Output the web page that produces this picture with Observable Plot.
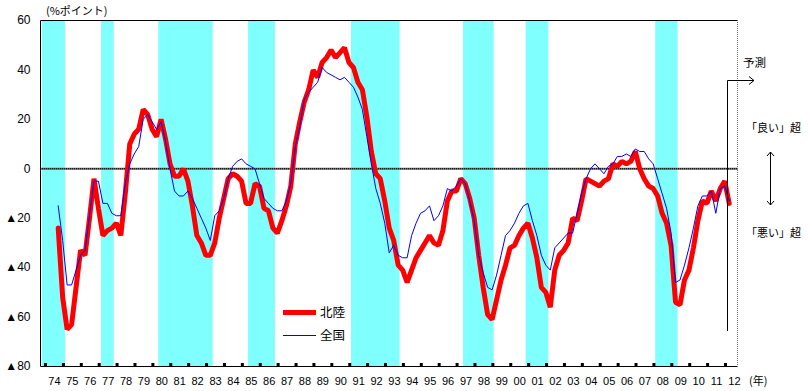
<!DOCTYPE html>
<html><head><meta charset="utf-8">
<script src="https://cdn.jsdelivr.net/npm/d3@7"></script>
<script src="https://cdn.jsdelivr.net/npm/@observablehq/plot@0.6"></script>
<style>
html,body{margin:0;padding:0;background:#fff;}
#chart{width:808px;height:391px;position:relative;overflow:hidden;}
</style></head><body><div id="chart"></div>
<script>
// Quarterly business conditions DI (%ポイント), first point = 1974 Sep survey, last = 2012 Mar (forecast)
const firstYear = 1974, firstMonth = 9;
const hokuriku = [
  -24, -52,
  -65, -63, -48, -33,   -35, -20, -4, -16,   -27, -25, -24, -22,   -27, -10, 10, 14,
  16, 24, 22, 16,       13, 20, 12, 2,       -3, -3, 0, -5,        -15, -27, -30, -35,
  -35, -30, -20, -12,   -4, -2, -3, -5,      -14, -14, -6, -7,     -16, -17, -24, -26,
  -21, -15, -7, 10,     19, 27, 32, 40,      37, 43, 45, 48,       45, 47, 49, 43,
  41, 35, 32, 21,       7, -2, -4, -13,      -24, -29, -39, -41,   -46, -41, -36, -33,
  -30, -27, -30, -31,   -25, -13, -9, -9,    -4, -6, -12, -20,     -35, -48, -59, -61,
  -53, -45, -39, -32,   -31, -27, -24, -22,  -28, -36, -48, -50,   -56, -41, -35, -33,
  -30, -20, -21, -13,   -4, -5, -6, -7,      -5, -4, 2, 1,         3, 2, 3, 7,
  0, -4, -7, -8,        -11, -18, -22, -31,  -54, -55, -45, -41,   -32, -21, -13, -14,
  -9, -13, -8, -5,
  -14
];
const zenkoku = [
  -15, -29,
  -47, -47, -41, -35,   -33, -19, -5, -5,    -14, -14, -18, -19,   -19, -6, 2, 6,
  9, 20, 22, 19,        16, 19, 11, 0,       -9, -11, -11, -9,     -12, -16, -20, -24,
  -29, -19, -17, -12,   -4, 1, 3, 4,         2, 1, 0, -6,          -12, -14, -16, -17,
  -17, -13, -6, 9,      17, 28, 31, 33,      35, 41, 39, 38,       37, 36, 37, 35,
  33, 29, 24, 13,       2, -8, -14, -22,     -34, -31, -35, -36,   -36, -27, -22, -18,
  -17, -15, -21, -19,   -15, -8, -9, -7,     -4, -6, -13, -21,     -35, -42, -48, -49,
  -43, -35, -27, -25,   -22, -18, -15, -14,  -21, -27, -35, -39,   -41, -32, -30, -28,
  -26, -26, -18, -10,   -4, 0, 2, 0,         -2, 1, 2, 5,          5, 6, 5, 8,
  7, 7, 4, 2,           -4, -10, -16, -26,   -46, -45, -39, -32,   -24, -15, -11, -11,
  -9, -18, -8, -7,
  -13
];
// Recession (shaded) periods, in fractional years
const recessionStart = [1973.82, 1977.13, 1980.33, 1985.34, 1991.10, 1997.36, 2000.86, 2008.10];
const recessionEnd   = [1975.12, 1977.84, 1983.37, 1986.85, 1993.82, 1999.07, 2002.13, 2009.35];
const years = d3.range(1974, 2013);
const yearLabels = years.map(y => String(y % 100).padStart(2, "0"));
const yTicks = [60, 40, 20, 0, -20, -40, -60, -80];
const yTickLabels = ["60", "40", "20", "0", "▲20", "▲40", "▲60", "▲80"];

const timeOf = i => firstYear + (firstMonth + 3 * i - 0.5) / 12;
const hokRows = hokuriku.map((v, i) => ({t: timeOf(i), v}));
const zenRows = zenkoku.map((v, i) => ({t: timeOf(i), v}));
const bands = recessionStart.map((s, i) => ({start: s, end: recessionEnd[i]}));
const yearMids = years.map(y => y + 0.5);

const jp = "'Noto Sans CJK JP', sans-serif";
const plot = Plot.plot({
  width: 808, height: 391,
  marginLeft: 40, marginRight: 70, marginTop: 20, marginBottom: 25,
  x: {type: "linear", domain: [1973.72, 2012.727], axis: null, label: null},
  y: {domain: [-80, 60], axis: null, label: null},
  style: {fontFamily: "'Liberation Sans', 'Noto Sans CJK JP', sans-serif", background: "white", overflow: "visible", color: "black"},
  marks: [
    Plot.rect(bands, {x1: "start", x2: "end", fill: "#80FFFF"}),
    Plot.ruleY([0], {stroke: "#666", strokeWidth: 2}),
    Plot.ruleY([0], {stroke: "#000", strokeWidth: 1, strokeDasharray: "1,1"}),
    Plot.line(hokRows, {x: "t", y: "v", stroke: "#FF0000", strokeWidth: 5, strokeLinejoin: "miter"}),
    Plot.line(zenRows, {x: "t", y: "v", stroke: "#0000FF", strokeWidth: 1}),
    Plot.ruleX(years, {x: d => d, insetTop: 343, stroke: "#000", strokeWidth: 3}),
    Plot.axisY(yTicks, {tickSize: 0, tickPadding: 10, fontSize: 12, label: null,
      tickFormat: d => yTickLabels[yTicks.indexOf(d)]}),
    Plot.axisX(yearMids, {tickSize: 0, tickPadding: 11, fontSize: 11, label: null,
      fontFamily: "'Liberation Sans Narrow', 'Liberation Sans', sans-serif",
      tickFormat: d => yearLabels[years.indexOf(d - 0.5)]})
  ]
});
document.getElementById("chart").appendChild(plot);

const svg = d3.select(plot);
// frame: black top/left/bottom, gray right side
svg.append("path").attr("d", "M737.5,20.5 H40.5 V366.5 H737.5").attr("fill", "none").attr("stroke", "#000");
svg.append("line").attr("x1", 737.5).attr("x2", 737.5).attr("y1", 20).attr("y2", 367)
  .attr("stroke", "#777").attr("stroke-dasharray", "1,1");

const txt = (x, y, s, size, anchor = "start") => svg.append("text")
  .attr("x", x).attr("y", y).attr("dy", "0.35em").attr("text-anchor", anchor)
  .attr("font-family", jp).attr("font-size", size).attr("fill", "#000").text(s);

txt(46, 11, "(%ポイント)", 11);
txt(749, 381, "(年)", 11);
txt(743, 63, "予測", 11.5);
txt(746, 128, "「良い」超", 11);
txt(746, 233, "「悪い」超", 11);

// forecast marker
svg.append("path").attr("d", "M727.5,331 V80.5 H754").attr("fill", "none").attr("stroke", "#000");
svg.append("path").attr("d", "M749,76.5 L754,80.5 L749,84.5").attr("fill", "none").attr("stroke", "#000");
// up/down arrow
svg.append("path").attr("d", "M770.5,152 V205").attr("fill", "none").attr("stroke", "#000");
svg.append("path").attr("d", "M767,156 L770.5,152 L774,156 M767,201 L770.5,205 L774,201").attr("fill", "none").attr("stroke", "#000");

// legend
svg.append("line").attr("x1", 283).attr("x2", 316).attr("y1", 312.5).attr("y2", 312.5)
  .attr("stroke", "#FF0000").attr("stroke-width", 5);
txt(320, 312.5, "北陸", 12.5);
svg.append("line").attr("x1", 283).attr("x2", 316).attr("y1", 335.5).attr("y2", 335.5)
  .attr("stroke", "#0000FF").attr("stroke-width", 1);
txt(320, 335.5, "全国", 12.5);
</script></body></html>
